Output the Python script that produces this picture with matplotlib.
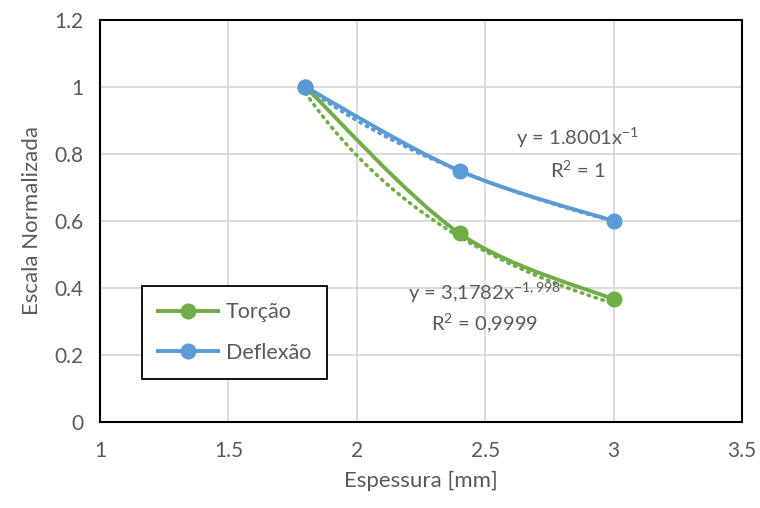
import numpy as np
import matplotlib
matplotlib.use("Agg")
import matplotlib.pyplot as plt
from matplotlib.path import Path
from matplotlib.patches import PathPatch
from matplotlib.lines import Line2D

plt.rcParams['font.family'] = ['Lato', 'DejaVu Sans']
plt.rcParams['mathtext.fontset'] = 'custom'
plt.rcParams['mathtext.rm'] = 'Lato'
plt.rcParams['mathtext.it'] = 'Lato:italic'
plt.rcParams['mathtext.default'] = 'regular'

# Data
espessura = [1.8, 2.4, 3.0]
torcao = [1.0, 0.563, 0.366]
deflexao = [1.0, 0.75, 0.60]

# Power trendline coefficients (y = a * x^b)
torcao_fit = (3.1782, -1.998)
deflexao_fit = (1.8001, -1.0)

x_ticks = [1, 1.5, 2, 2.5, 3, 3.5]
y_ticks = [0, 0.2, 0.4, 0.6, 0.8, 1, 1.2]
x_tick_labels = ['1', '1.5', '2', '2.5', '3', '3.5']
y_tick_labels = ['0', '0.2', '0.4', '0.6', '0.8', '1', '1.2']

GREEN = '#70AD47'
BLUE = '#5B9BD5'
TEXT = '#595959'
GRID = '#D9D9D9'


def smooth_path(xs, ys):
    """Bezier path through the points, Catmull-Rom style tangents."""
    pts = np.column_stack([xs, ys]).astype(float)
    n = len(pts)
    verts = [pts[0]]
    codes = [Path.MOVETO]
    for i in range(n - 1):
        p0 = pts[i - 1] if i > 0 else pts[i]
        p1 = pts[i]
        p2 = pts[i + 1]
        p3 = pts[i + 2] if i + 2 < n else pts[i + 1]
        c1 = p1 + (p2 - p0) / 6.0
        c2 = p2 - (p3 - p1) / 6.0
        verts += [c1, c2, p2]
        codes += [Path.CURVE4] * 3
    return Path(verts, codes)


fig = plt.figure(figsize=(7.6, 5.08), dpi=100)
ax = fig.add_axes([100 / 760, 1 - 422 / 508, 642 / 760, 402 / 508])

ax.set_xlim(1, 3.5)
ax.set_ylim(0, 1.2)
ax.set_xticks(x_ticks)
ax.set_xticklabels(x_tick_labels)
ax.set_yticks(y_ticks)
ax.set_yticklabels(y_tick_labels)
ax.tick_params(length=0, labelsize=15, colors=TEXT, pad=12)
ax.tick_params(axis='x', pad=14)
ax.grid(True, color=GRID, linewidth=1.3)
ax.set_axisbelow(True)
for s in ax.spines.values():
    s.set_color('black')
    s.set_linewidth(1.5)

ax.set_xlabel('Espessura [mm]', fontsize=16, color=TEXT, labelpad=7)
ax.set_ylabel('Escala Normalizada', fontsize=16, color=TEXT, labelpad=9)

# Trendlines (dotted)
xt = np.linspace(espessura[0], espessura[-1], 200)
for (a, b), c in [(torcao_fit, GREEN), (deflexao_fit, BLUE)]:
    ax.plot(xt, a * xt ** b, linestyle=(0, (0.4, 1.6)), color=c, linewidth=2.6,
            dash_capstyle='round', zorder=2)

# Smoothed series lines and markers
for ys, c in [(torcao, GREEN), (deflexao, BLUE)]:
    patch = PathPatch(smooth_path(espessura, ys), facecolor='none', edgecolor=c,
                      linewidth=2.8, capstyle='round', zorder=3)
    ax.add_patch(patch)
    ax.plot(espessura, ys, linestyle='none', marker='o', markersize=10.5,
            color=c, zorder=4)

# Trendline equations
ax.text(2.861, 0.848, 'y = 1.8001x$^{-1}$', ha='center', va='center',
        fontsize=14.5, color=TEXT)
ax.text(2.861, 0.752, 'R$^{2}$ = 1', ha='center', va='center',
        fontsize=14.5, color=TEXT)
ax.text(2.499, 0.385, 'y = 3,1782x$^{-1,998}$', ha='center', va='center',
        fontsize=14.5, color=TEXT)
ax.text(2.499, 0.296, 'R$^{2}$ = 0,9999', ha='center', va='center',
        fontsize=14.5, color=TEXT)

handles = [
    Line2D([], [], color=GREEN, linewidth=2.8, marker='o', markersize=10.5),
    Line2D([], [], color=BLUE, linewidth=2.8, marker='o', markersize=10.5),
]
leg = ax.legend(handles, ['Torção', 'Deflexão'], loc='upper left',
                bbox_to_anchor=((142 - 100) / 642, (422 - 286) / 402),
                fontsize=15.5, labelcolor=TEXT, frameon=True, fancybox=False,
                edgecolor='black', framealpha=1, borderpad=0.75,
                handlelength=2.8, labelspacing=0.95, handletextpad=0.35,
                borderaxespad=0)
leg.get_frame().set_linewidth(1.3)

fig.savefig('out.png', dpi=100)
